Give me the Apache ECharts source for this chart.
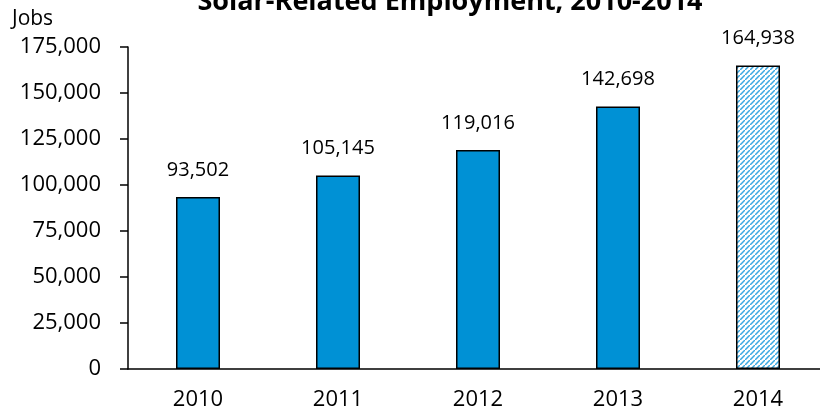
<!DOCTYPE html>
<html><head><meta charset="utf-8">
<script src="https://cdn.jsdelivr.net/npm/echarts@6/dist/echarts.min.js"></script>
<style>html,body{margin:0;padding:0;background:#fff;overflow:hidden}#c{width:840px;height:417px}</style>
</head><body><div id="c"></div>
<script>
var categories = ['2010','2011','2012','2013','2014'];
var jobs = [93502, 105145, 119016, 142698, 164938];
var titleText = 'Solar-Related Employment, 2010-2014';
var yAxisName = 'Jobs';

var P = 5;
var pc = document.createElement('canvas');
pc.width = P; pc.height = P;
var ctx = pc.getContext('2d');
ctx.fillStyle = '#ffffff'; ctx.fillRect(0,0,P,P);
ctx.strokeStyle = '#3aa9e2'; ctx.lineWidth = 1.5;
ctx.beginPath();
ctx.moveTo(-1,P+1); ctx.lineTo(P+1,-1);
ctx.moveTo(-P-1,1); ctx.lineTo(1,-P-1);
ctx.moveTo(P-1,2*P+1); ctx.lineTo(2*P+1,P-1);
ctx.stroke();

var font = '"Open Sans", "Noto Sans", sans-serif';
var data = jobs.map(function(v,i){
  var item = {value: v};
  if (i === jobs.length-1) item.itemStyle = {color: {image: pc, repeat: 'repeat'}};
  return item;
});
var chart = echarts.init(document.getElementById('c'), null, {renderer:'canvas'});
chart.setOption({
  animation:false,
  title:{text:titleText, left:445, textAlign:'center', top:-16,
    textStyle:{fontFamily:font, fontSize:27, fontWeight:'bold', color:'#000'}},
  grid:{left:128, top:47, width:700, height:322},
  xAxis:{type:'category', data:categories,
    axisLine:{lineStyle:{color:'#000', width:1.5}},
    axisTick:{show:false},
    axisLabel:{fontFamily:font, fontSize:22, color:'#000', margin:20}},
  yAxis:{type:'value', min:0, max:175000, interval:25000,
    name:yAxisName, nameLocation:'end', nameGap:17,
    nameTextStyle:{fontFamily:font, fontSize:21, color:'#000', align:'left', padding:[0,0,0,-116]},
    axisLine:{show:true, lineStyle:{color:'#000', width:1.5}},
    axisTick:{show:true, length:8, lineStyle:{color:'#000', width:1.5}},
    splitLine:{show:false},
    axisLabel:{fontFamily:font, fontSize:22, color:'#000', margin:27,
      formatter:function(v){return v.toLocaleString('en-US');}}},
  series:[{type:'bar', data:data, barWidth:44,
    itemStyle:{color:'#0091d5', borderColor:'#000', borderWidth:1.5},
    label:{show:true, position:'top', distance:17, fontFamily:font, fontSize:20, color:'#000',
      formatter:function(p){return p.value.toLocaleString('en-US');}}}]
});
</script></body></html>
